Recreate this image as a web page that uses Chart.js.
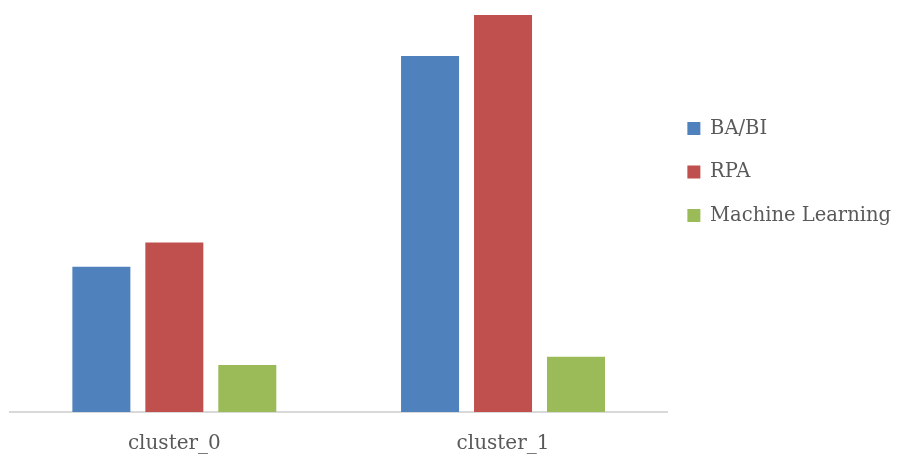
<!DOCTYPE html>
<html>
<head>
<meta charset="utf-8">
<script src="https://cdn.jsdelivr.net/npm/chart.js@4.4.1/dist/chart.umd.min.js"></script>
<style>
  html, body { margin: 0; padding: 0; background: #ffffff; }
  #wrap { width: 897px; height: 456px; }
</style>
</head>
<body>
<div id="wrap"><canvas id="chart" width="897" height="456"></canvas></div>
<script>
// Clusters along the x axis
const categories = ['cluster_0', 'cluster_1'];

// Series values per cluster
const baBi = [145, 355];
const rpa = [169, 396];
const machineLearning = [47, 55];

const seriesNames = ['BA/BI', 'RPA', 'Machine Learning'];
const seriesColors = ['#4F81BD', '#C0504D', '#9BBB59'];

const textColor = '#595959';
const fontFamily = '"DejaVu Serif", serif';

const datasets = [baBi, rpa, machineLearning].map((values, i) => ({
  label: seriesNames[i],
  data: values,
  backgroundColor: seriesColors[i],
  borderWidth: 0,
  barPercentage: 0.795,
  categoryPercentage: 0.666
}));

// Keeps the legend column a little higher than the plot's middle
const legendPlacement = {
  id: 'legendPlacement',
  afterLayout(chart) {
    const lg = chart.legend;
    if (!lg) return;
    lg.top = 0;
    lg.bottom = 344;
    lg.height = 344;
    lg.left -= 4;
    lg.right -= 4;
  }
};

new Chart(document.getElementById('chart'), {
  type: 'bar',
  data: { labels: categories, datasets },
  plugins: [legendPlacement],
  options: {
    responsive: false,
    animation: false,
    layout: { padding: { left: 10, top: 11, right: -8, bottom: 0 } },
    plugins: {
      tooltip: { enabled: false },
      legend: {
        position: 'right',
        labels: {
          boxWidth: 13,
          boxHeight: 13,
          padding: 24,
          color: textColor,
          font: { family: fontFamily, size: 19.5 }
        }
      }
    },
    scales: {
      x: {
        grid: { display: false, drawTicks: false },
        border: { display: true, color: '#d9d9d9', width: 2 },
        ticks: {
          color: textColor,
          padding: 20,
          font: { family: fontFamily, size: 20 }
        },
        afterFit(scale) { scale.height = 44; }
      },
      y: {
        display: false,
        min: 0,
        max: 400
      }
    }
  }
});
</script>
</body>
</html>
